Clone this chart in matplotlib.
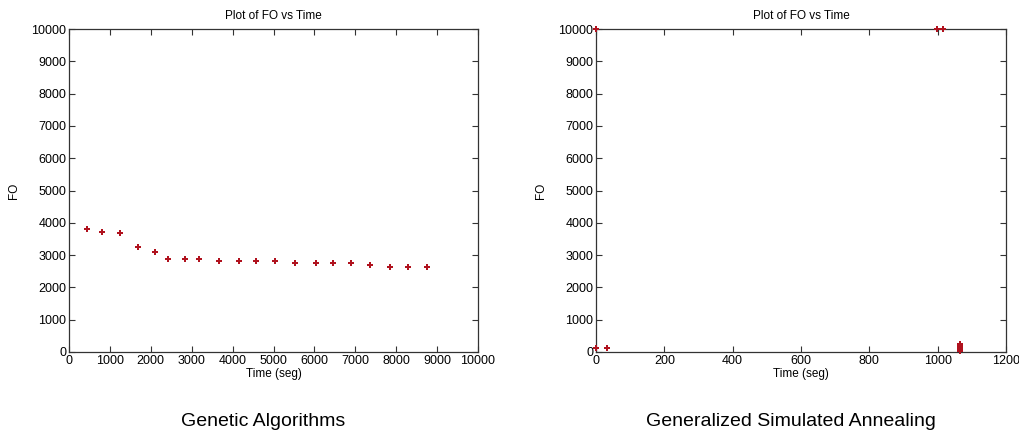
import matplotlib
matplotlib.use('Agg')
from matplotlib import pyplot as plt

plt.rcParams['font.family'] = ['Liberation Sans', 'DejaVu Sans']

# Genetic Algorithms run
ga_time = [432, 814, 1246, 1686, 2093, 2427, 2842, 3168, 3656, 4145,
           4568, 5033, 5537, 6034, 6458, 6897, 7353, 7858, 8298, 8762]
ga_fo = [3816, 3702, 3671, 3237, 3092, 2885, 2885, 2885, 2823, 2823,
         2823, 2823, 2740, 2740, 2740, 2740, 2699, 2647, 2647, 2647]

# Generalized Simulated Annealing run
gsa_time = [0, 0, 33, 998, 1017, 1066, 1066, 1066, 1066, 1066]
gsa_fo = [10000, 110, 110, 10000, 10000, 240, 180, 120, 60, 20]

ga_xticks = list(range(0, 10001, 1000))
gsa_xticks = list(range(0, 1201, 200))
yticks = list(range(0, 10001, 1000))

captions = ['Genetic Algorithms', 'Generalized Simulated Annealing']

fig = plt.figure(figsize=(10.2, 4.38), dpi=100)
ax1 = fig.add_axes([69/1020, 1-352/438, 409/1020, 323/438])
ax2 = fig.add_axes([596/1020, 1-352/438, 410/1020, 323/438])

red = '#b0121e'
for ax, t, fo, xt, cap in [(ax1, ga_time, ga_fo, ga_xticks, captions[0]),
                           (ax2, gsa_time, gsa_fo, gsa_xticks, captions[1])]:
	ax.plot(t, fo, linestyle='none', marker='P', ms=4, mew=0, color=red, clip_on=False, zorder=5)
	ax.set_xlim(xt[0], xt[-1])
	ax.set_ylim(0, 10000)
	ax.set_xticks(xt)
	ax.set_yticks(yticks)
	ax.tick_params(direction='in', length=4, width=0.8, top=True, right=True,
	               labelsize=9, pad=2, color='#333333')
	for s in ax.spines.values():
		s.set_color('#333333')
		s.set_linewidth(0.9)
	ax.set_title('Plot of FO vs Time', fontsize=8.5, pad=7)
	ax.set_xlabel('Time (seg)', fontsize=8.5, labelpad=1)
	ax.set_ylabel('FO', fontsize=8.5, labelpad=8)
	bb = ax.get_position()
	fig.text(bb.x0 + bb.width/2 - 10/1020, 1-422/438, cap, ha='center', va='center', fontsize=14)

fig.savefig('out.png', dpi=100)
